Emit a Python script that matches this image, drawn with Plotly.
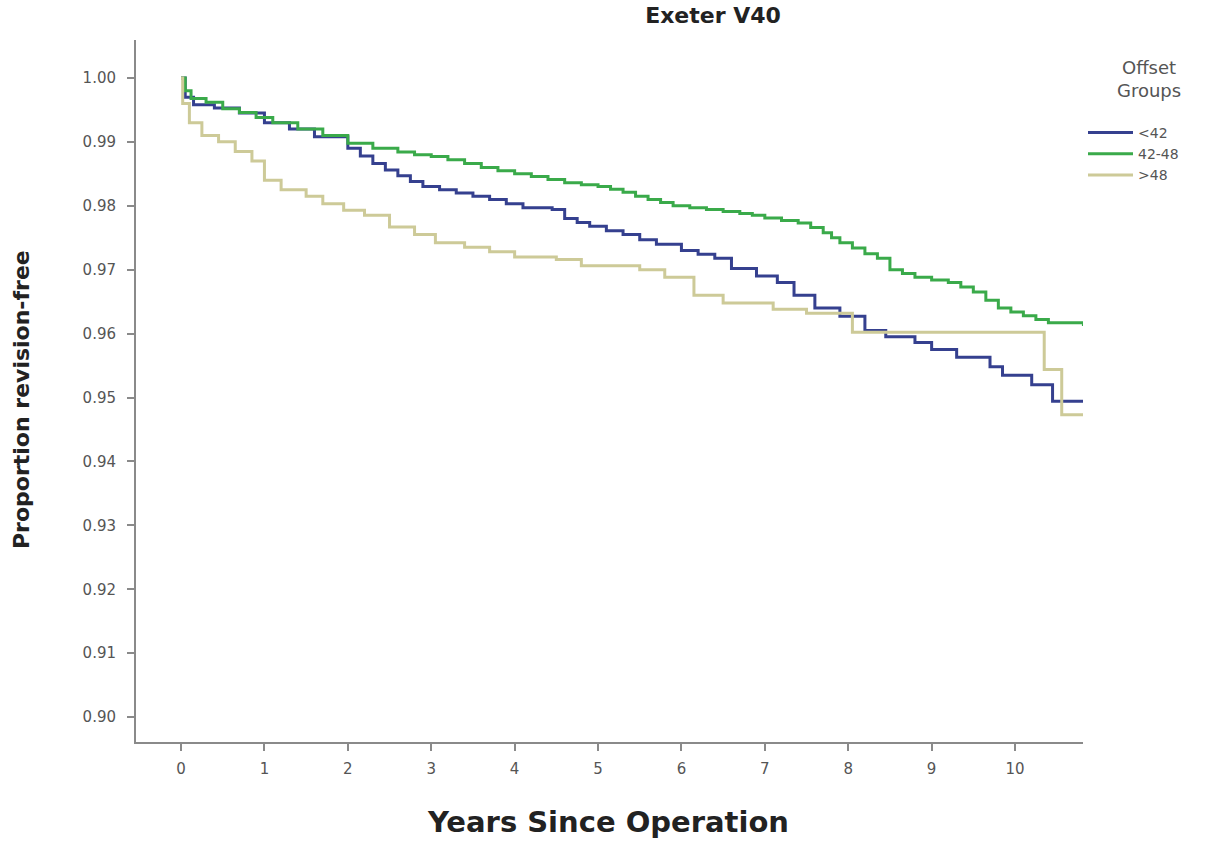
import plotly.graph_objects as go

# ---- data ----
t_lt42 = [0, 0.05, 0.15, 0.4, 0.7, 1.0, 1.3, 1.6, 2.0, 2.15, 2.3, 2.45, 2.6, 2.75, 2.9, 3.1,
          3.3, 3.5, 3.7, 3.9, 4.1, 4.45, 4.6, 4.75, 4.9, 5.1, 5.3, 5.5, 5.7, 6.0, 6.2, 6.4,
          6.6, 6.9, 7.15, 7.35, 7.6, 7.9, 8.2, 8.45, 8.8, 9.0, 9.3, 9.7, 9.85, 10.2, 10.45,
          10.82]
s_lt42 = [1.0, 0.997, 0.9958, 0.9953, 0.9945, 0.9930, 0.9920, 0.9908, 0.9890, 0.9878,
          0.9866, 0.9856, 0.9847, 0.9838, 0.9830, 0.9825, 0.9820, 0.9815, 0.9810, 0.9803,
          0.9797, 0.9794, 0.9780, 0.9774, 0.9768, 0.9761, 0.9755, 0.9747, 0.9740, 0.9730,
          0.9724, 0.9718, 0.9702, 0.9690, 0.9680, 0.9660, 0.9640, 0.9627, 0.9605, 0.9595,
          0.9586, 0.9575, 0.9563, 0.9548, 0.9535, 0.9520, 0.9494, 0.9494]

t_42_48 = [0, 0.05, 0.12, 0.3, 0.5, 0.7, 0.9, 1.1, 1.4, 1.7, 2.0, 2.3, 2.6, 2.8, 3.0, 3.2,
           3.4, 3.6, 3.8, 4.0, 4.2, 4.4, 4.6, 4.8, 5.0, 5.15, 5.3, 5.45, 5.6, 5.75, 5.9,
           6.1, 6.3, 6.5, 6.7, 6.85, 7.0, 7.2, 7.4, 7.55, 7.7, 7.8, 7.9, 8.05, 8.2, 8.35,
           8.5, 8.65, 8.8, 9.0, 9.2, 9.35, 9.5, 9.65, 9.8, 9.95, 10.1, 10.25, 10.4, 10.82]
s_42_48 = [1.0, 0.998, 0.9968, 0.9962, 0.9952, 0.9946, 0.9938, 0.9930, 0.9920, 0.9910,
           0.9898, 0.9890, 0.9884, 0.9880, 0.9877, 0.9872, 0.9866, 0.9860, 0.9855, 0.9850,
           0.9846, 0.9841, 0.9836, 0.9833, 0.9830, 0.9826, 0.9821, 0.9815, 0.9810, 0.9805,
           0.9800, 0.9797, 0.9794, 0.9791, 0.9788, 0.9785, 0.9781, 0.9777, 0.9773, 0.9766,
           0.9758, 0.9750, 0.9742, 0.9734, 0.9725, 0.9718, 0.9700, 0.9694, 0.9688, 0.9684,
           0.9680, 0.9673, 0.9665, 0.9652, 0.9640, 0.9634, 0.9628, 0.9622, 0.9617, 0.9612]

t_gt48 = [0, 0.02, 0.1, 0.25, 0.45, 0.65, 0.85, 1.0, 1.2, 1.5, 1.7, 1.95, 2.2, 2.5, 2.8,
          3.05, 3.4, 3.7, 4.0, 4.5, 4.8, 5.5, 5.8, 6.15, 6.5, 7.1, 7.5, 8.05, 10.35, 10.56,
          10.82]
s_gt48 = [1.0, 0.9960, 0.9930, 0.9910, 0.9900, 0.9885, 0.9870, 0.9840, 0.9825, 0.9815,
          0.9803, 0.9793, 0.9785, 0.9767, 0.9755, 0.9742, 0.9735, 0.9728, 0.9720, 0.9716,
          0.9706, 0.9700, 0.9688, 0.9660, 0.9648, 0.9638, 0.9632, 0.9602, 0.9544, 0.9473,
          0.9473]

y_ticks = [0.90, 0.91, 0.92, 0.93, 0.94, 0.95, 0.96, 0.97, 0.98, 0.99, 1.00]
x_ticks = list(range(0, 11))

series = [
    ("<42", t_lt42, s_lt42, "#35408f"),
    ("42-48", t_42_48, s_42_48, "#3aaa4a"),
    (">48", t_gt48, s_gt48, "#cdca98"),
]

FONT = "DejaVu Sans, Liberation Sans, Arial"

fig = go.Figure()
for name, t, s, c in series:
    fig.add_trace(go.Scatter(x=t, y=s, name=name, mode="lines",
                             line=dict(color=c, width=3, shape="hv")))

axis_common = dict(showline=True, linecolor="#8a8a8a", linewidth=2, ticks="outside",
                   ticklen=7, tickcolor="#8a8a8a", tickwidth=1.5, showgrid=False,
                   zeroline=False, mirror=False,
                   tickfont=dict(family=FONT, size=15, color="#555"))

L, R, T, B = 136, 136, 40, 100
plot_h = 842 - T - B

fig.update_xaxes(range=[-0.54, 10.815], tickvals=x_ticks, ticklabelstandoff=5,
                 **axis_common)
fig.update_yaxes(range=[0.8961, 1.00594], tickvals=y_ticks,
                 ticktext=[f"{v:.2f}" for v in y_ticks], ticklabelstandoff=8,
                 **axis_common)

def py(ypx):
    return (842 - B - ypx) / plot_h

def px(xpx):
    return (xpx - L) / (1219 - L - R)

fig.update_layout(
    width=1219, height=842,
    margin=dict(l=L, r=R, t=T, b=B),
    plot_bgcolor="white", paper_bgcolor="white",
    font=dict(family=FONT, color="#333"),
    title=dict(text="<b>Exeter V40</b>", xref="container", yref="container",
               x=713 / 1219, y=1 - 15 / 842, xanchor="center", yanchor="middle",
               font=dict(family=FONT, size=22, color="#222")),
    legend=dict(x=px(1083), y=py(117), xanchor="left", yanchor="top",
                font=dict(family=FONT, size=14, color="#555"),
                bgcolor="rgba(0,0,0,0)", itemwidth=45, tracegroupgap=0),
    annotations=[
        dict(text="Offset<br>Groups", xref="paper", yref="paper",
             x=px(1149), y=py(79), showarrow=False, xanchor="center",
             yanchor="middle", align="center",
             font=dict(family=FONT, size=18, color="#555")),
        dict(text="<b>Proportion revision-free</b>", xref="paper", yref="paper",
             x=px(22), y=py(400), textangle=-90, showarrow=False,
             xanchor="center", yanchor="middle",
             font=dict(family=FONT, size=22, color="#222")),
        dict(text="<b>Years Since Operation</b>", xref="paper", yref="paper",
             x=px(608), y=py(822), showarrow=False,
             xanchor="center", yanchor="middle",
             font=dict(family=FONT, size=29, color="#222")),
    ],
)

fig.write_html("out.html")
